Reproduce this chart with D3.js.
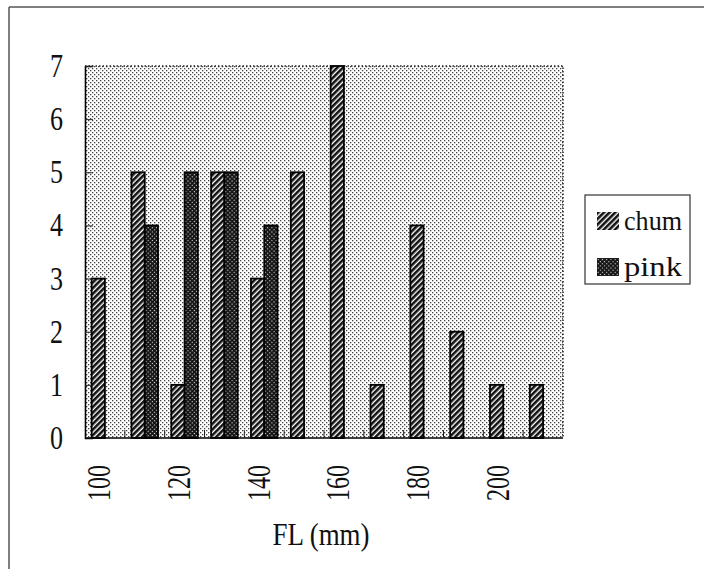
<!DOCTYPE html>
<html>
<head>
<meta charset="utf-8">
<script src="https://cdn.jsdelivr.net/npm/d3@7"></script>
<style>
  body { margin: 0; background: #fff; }
  text { font-family: "Liberation Serif", "DejaVu Serif", serif; fill: #111; }
</style>
</head>
<body>
<div id="chart"></div>
<script>
var width = 704
var height = 569

// data
var categories = [100, 110, 120, 130, 140, 150, 160, 170, 180, 190, 200, 210]
var chum = [3, 5, 1, 5, 3, 5, 7, 1, 4, 2, 1, 1]
var pink = [0, 4, 5, 5, 4, 0, 0, 0, 0, 0, 0, 0]
var seriesNames = ["chum", "pink"]
var xTickLabels = [100, 120, 140, 160, 180, 200]
var yTicks = [0, 1, 2, 3, 4, 5, 6, 7]

var plot = { left: 85, right: 563, top: 66, bottom: 438 }

var svg = d3.select("#chart")
    .append("svg")
    .attr("width", width)
    .attr("height", height)

// patterns
var defs = svg.append("defs")

var bg = defs.append("pattern").attr("id", "dots")
    .attr("width", 4).attr("height", 4).attr("patternUnits", "userSpaceOnUse")
bg.append("rect").attr("width", 4).attr("height", 4).attr("fill", "#fff")
bg.append("rect").attr("x", 0).attr("y", 0).attr("width", 1.3).attr("height", 1.3).attr("fill", "#444")
bg.append("rect").attr("x", 2).attr("y", 2).attr("width", 1.3).attr("height", 1.3).attr("fill", "#444")

var hatch = defs.append("pattern").attr("id", "hatch")
    .attr("width", 4).attr("height", 4).attr("patternUnits", "userSpaceOnUse")
    .attr("patternTransform", "rotate(-45)")
hatch.append("rect").attr("width", 4).attr("height", 4).attr("fill", "#fff")
hatch.append("rect").attr("width", 4).attr("height", 2.6).attr("fill", "#111")

var check = defs.append("pattern").attr("id", "check")
    .attr("width", 3).attr("height", 3).attr("patternUnits", "userSpaceOnUse")
    .attr("patternTransform", "rotate(45)")
check.append("rect").attr("width", 3).attr("height", 3).attr("fill", "#151515")
check.append("rect").attr("x", 0).attr("y", 0).attr("width", 1.1).attr("height", 1.1).attr("fill", "#ddd")

var fills = { chum: "url(#hatch)", pink: "url(#check)" }

// outer frame (only top and left edges visible in the scan)
svg.append("line").attr("x1", 9).attr("y1", 7).attr("x2", 704).attr("y2", 7)
    .attr("stroke", "#555").attr("stroke-width", 1.5)
svg.append("line").attr("x1", 9).attr("y1", 7).attr("x2", 9).attr("y2", 569)
    .attr("stroke", "#555").attr("stroke-width", 1.5)

// scales
var x = d3.scaleBand().domain(categories).range([plot.left, plot.right]).paddingInner(0).paddingOuter(0)
var xSub = d3.scaleBand().domain(seriesNames).range([0, x.bandwidth()]).paddingInner(0).paddingOuter(0.5)
var y = d3.scaleLinear().domain([0, 7]).range([plot.bottom, plot.top])

// plot area
svg.append("rect")
    .attr("x", plot.left).attr("y", plot.top)
    .attr("width", plot.right - plot.left).attr("height", plot.bottom - plot.top)
    .attr("fill", "url(#dots)")
svg.append("path")
    .attr("d", "M" + plot.left + "," + plot.top + "H" + plot.right + "V" + plot.bottom)
    .attr("fill", "none").attr("stroke", "#222").attr("stroke-width", 1.5)
    .attr("stroke-dasharray", "1.5,2")

// bars
var rows = categories.map(function(c, i) { return { cat: c, chum: chum[i], pink: pink[i] } })
var groups = svg.append("g").selectAll("g").data(rows).join("g")
    .attr("transform", function(d) { return "translate(" + x(d.cat) + ",0)" })
groups.selectAll("rect")
    .data(function(d) { return seriesNames.map(function(s) { return { key: s, value: d[s] } }).filter(function(e) { return e.value > 0 }) })
    .join("rect")
    .attr("x", function(d) { return xSub(d.key) })
    .attr("y", function(d) { return y(d.value) })
    .attr("width", xSub.bandwidth())
    .attr("height", function(d) { return y(0) - y(d.value) })
    .attr("fill", function(d) { return fills[d.key] })
    .attr("stroke", "#000").attr("stroke-width", 1.8)

// y axis, ticks pointing into the plot
var yAxis = svg.append("g")
    .attr("transform", "translate(" + plot.left + ",0)")
    .call(d3.axisLeft(y).tickValues(yTicks).tickSize(-8).tickPadding(22).tickFormat(d3.format("d")))
yAxis.select(".domain").attr("stroke", "#000").attr("stroke-width", 1.6)
yAxis.selectAll(".tick line").attr("stroke", "#222").attr("stroke-width", 1)
yAxis.selectAll("text")
    .style("font-family", "Liberation Serif, serif").style("font-size", "33px").attr("fill", "#111")
    .attr("textLength", 13).attr("lengthAdjust", "spacingAndGlyphs")

// x axis line and tick marks at category boundaries
svg.append("line").attr("x1", plot.left).attr("x2", plot.right)
    .attr("y1", y(0)).attr("y2", y(0)).attr("stroke", "#000").attr("stroke-width", 1.6)
svg.append("g").selectAll("line").data(categories.slice(1)).join("line")
    .attr("x1", function(d) { return x(d) }).attr("x2", function(d) { return x(d) })
    .attr("y1", y(0)).attr("y2", y(0) - 8)
    .attr("stroke", "#222").attr("stroke-width", 1)

// rotated x labels
svg.append("g").selectAll("text").data(xTickLabels).join("text")
    .attr("transform", function(d) { return "translate(" + (x(d) + x.bandwidth() / 2 - 6) + ",465) rotate(-90)" })
    .attr("text-anchor", "end")
    .attr("dy", "0.35em")
    .attr("textLength", 36).attr("lengthAdjust", "spacingAndGlyphs")
    .style("font-size", "33px")
    .text(function(d) { return d })

// axis title
svg.append("text").attr("x", 321).attr("y", 545).attr("text-anchor", "middle")
    .attr("textLength", 97).attr("lengthAdjust", "spacingAndGlyphs")
    .style("font-size", "32px").text("FL (mm)")

// legend
var legend = svg.append("g")
legend.append("rect").attr("x", 585).attr("y", 195).attr("width", 105).attr("height", 89)
    .attr("fill", "#fff").attr("stroke", "#333").attr("stroke-width", 1.2)
seriesNames.forEach(function(s, i) {
    legend.append("rect").attr("x", 597).attr("y", 212 + i * 46).attr("width", 22).attr("height", 18)
        .attr("fill", fills[s])
    legend.append("text").attr("x", 624).attr("y", 230 + i * 46)
        .attr("textLength", 58).attr("lengthAdjust", "spacingAndGlyphs")
        .style("font-size", "27px").text(s)
})
</script>
</body>
</html>
